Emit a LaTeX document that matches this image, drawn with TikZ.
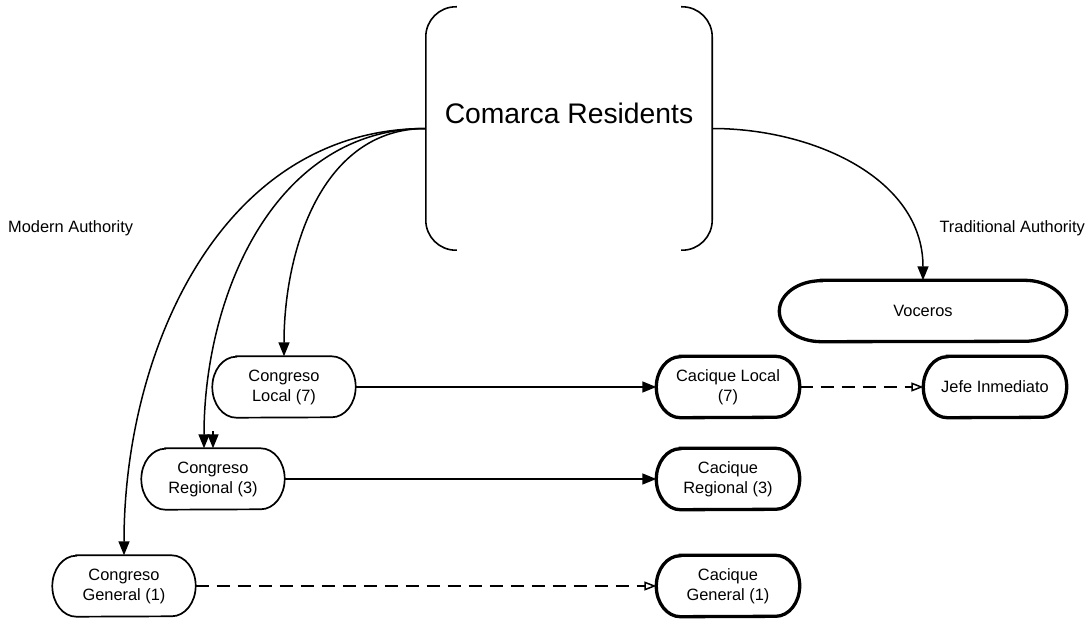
\documentclass[tikz,border=0pt]{standalone}
\usepackage{fontspec}
\setmainfont{Liberation Sans}
\usetikzlibrary{arrows.meta}
\usetikzlibrary{positioning, shapes.misc}

\begin{document}
\begin{tikzpicture}[
  x=1pt, y=-1pt,
  every node/.style={font=\fontsize{16.4}{20}\selectfont, align=center, inner sep=0pt},
  body/.style={minimum width=143pt, minimum height=61pt},
  link/.style={line width=1.5pt, -{Triangle[length=14pt,width=11pt]}},
  weak/.style={line width=1.5pt, dash pattern=on 13pt off 8pt, -{Triangle[open,length=12pt,width=9pt]}}
]
  \useasboundingbox (0,0) rectangle (1092,620);

  % residents, between two brackets
  \node[minimum width=286pt, minimum height=243pt] (res) at (569,128.5) {};
  \node[font=\fontsize{28.3}{34}\selectfont] (restitle) at (569,113) {Comarca Residents};
  \draw[line width=1.6pt, rounded corners=30pt] ([xshift=31pt]res.north west) -- (res.north west)
    -- (res.south west) -- ([xshift=31pt]res.south west);
  \draw[line width=1.6pt, rounded corners=30pt] ([xshift=-31pt]res.north east) -- (res.north east)
    -- (res.south east) -- ([xshift=-31pt]res.south east);

  \node[anchor=west] (modern) at (8,228) {Modern Authority};
  \node[anchor=east] (trad) at (1085,228) {Traditional Authority};

  \node[body] (clocal) at (284,387) {Congreso\\Local (7)};
  \node[body] (creg)   at (213,479) {Congreso\\Regional (3)};
  \node[body] (cgen)   at (124,586) {Congreso\\General (1)};
  \node[body] (klocal) at (728,387) {Cacique Local\\(7)};
  \node[body] (kreg)   at (728,479) {Cacique\\Regional (3)};
  \node[body] (kgen)   at (728,586) {Cacique\\General (1)};
  \node[body] (jefe)   at (995,387) {Jefe Inmediato};
  \node[body, minimum width=287pt] (voceros) at (923,311) {Voceros};

  % pill outlines with oval ends
  \foreach \n/\r/\lw in {clocal/24/1.7, creg/24/1.7, cgen/24/1.7, klocal/24/3.3,
                         kreg/24/3.3, kgen/24/3.3, jefe/24/3.3, voceros/42/3.3}
    \draw[line width=\lw pt] ([xshift=\r pt]\n.north west) -- ([xshift=-\r pt]\n.north east)
      arc[start angle=90, end angle=-90, x radius=\r pt, y radius=30.5pt]
      -- ([xshift=\r pt]\n.south west)
      arc[start angle=270, end angle=90, x radius=\r pt, y radius=30.5pt] -- cycle;

  \draw[link] (res.west) to[out=180,in=90] (clocal.north);
  \draw[link] (res.west) to[out=180,in=90] ([xshift=-9pt]creg.north);
  \draw[link] (res.west) to[out=180,in=90] (cgen.north);
  \coordinate (stub) at ([yshift=17pt]creg.north);
  \draw[link] (stub) -- (creg.north);
  \draw[link] (res.east) to[out=0,in=90] (voceros.north);

  \draw[link] (clocal) -- (klocal);
  \draw[link] (creg) -- (kreg);
  \draw[weak] (cgen) -- (kgen);
  \draw[weak] (klocal) -- (jefe);
\end{tikzpicture}
\end{document}
